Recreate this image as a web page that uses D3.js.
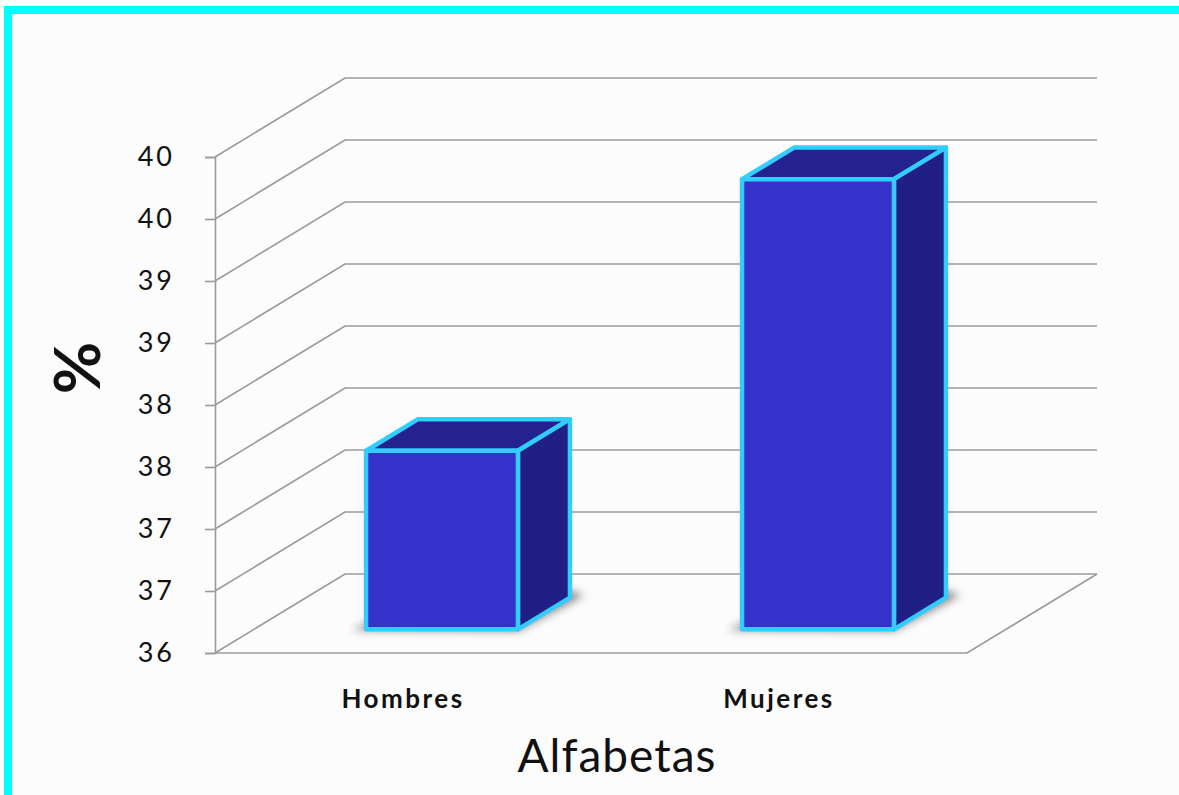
<!DOCTYPE html>
<html>
<head>
<meta charset="utf-8">
<script src="https://cdn.jsdelivr.net/npm/d3@7/dist/d3.min.js"></script>
<style>
  html, body { margin: 0; padding: 0; background: #ffffff; }
  svg { display: block; }
  text { font-family: "Lato", "Open Sans", sans-serif; fill: #111; }
</style>
</head>
<body>
<svg id="chart" width="1179" height="795"></svg>
<script>
// Literacy (%) by sex
const categories = ["Hombres", "Mujeres"];
const values = [37.44, 39.63];
const tickValues = [36, 36.5, 37, 37.5, 38, 38.5, 39, 39.5, 40];
const yTitle = "%";
const xTitle = "Alfabetas";

const svg = d3.select("#chart");
const W = 1179, H = 795;

// frame
svg.append("rect").attr("x", 0).attr("y", 0).attr("width", W).attr("height", H).attr("fill", "#ffffff");
svg.append("rect").attr("x", 12).attr("y", 14).attr("width", W - 12).attr("height", H - 14).attr("fill", "#fcfcfc");
svg.append("rect").attr("x", 4).attr("y", 6).attr("width", W - 4).attr("height", 8).attr("fill", "#00ffff");
svg.append("rect").attr("x", 4).attr("y", 6).attr("width", 8).attr("height", H - 6).attr("fill", "#00ffff");

// plot geometry: front plane and depth offset of the 3D box
const x0 = 215, x1 = 967;
const depthX = 130, depthY = -79;

const x = d3.scaleBand().domain(categories).range([x0, x1]).padding(0);
const y = d3.scaleLinear().domain([36, 40]).range([653, 157]);

// project a point (front-plane x, value, depth fraction)
const P = (px, v, f) => [px + f * depthX, y(v) + f * depthY];

const grid = svg.append("g").attr("fill", "none").attr("stroke", "#9a9a9a").attr("stroke-width", 1.6);

// side wall diagonals + back wall horizontals
tickValues.forEach(t => {
  const a = P(x0, t, 0), b = P(x0, t, 1), c = P(x1, t, 1);
  grid.append("path").attr("d", d3.line()([a, b, c]));
});

// floor
const fl = [P(x0, 36, 0), P(x1, 36, 0), P(x1, 36, 1)];
grid.append("path").attr("d", d3.line()(fl));

// front vertical axis with ticks
const axis = d3.axisLeft(y).tickValues(tickValues).tickFormat(d3.format(".0f")).tickSize(10).tickPadding(30);
const gAxis = svg.append("g").attr("transform", `translate(${x0},0)`).call(axis);
gAxis.select(".domain").attr("stroke", "#9a9a9a").attr("stroke-width", 1.6);
gAxis.selectAll(".tick line").attr("stroke", "#9a9a9a").attr("stroke-width", 1.6);
gAxis.selectAll(".tick text")
  .style("font-family", "Lato, 'Open Sans', sans-serif")
  .style("font-size", "27px").style("letter-spacing", "3px")
  .attr("fill", "#1a1a1a");

// bars
const defs = svg.append("defs");
defs.append("filter").attr("id", "shadow").attr("x", "-30%").attr("y", "-30%").attr("width", "160%").attr("height", "160%")
  .append("feGaussianBlur").attr("stdDeviation", 4);

const fFront = 0.3, fBack = 0.7;
const barFrac = 0.404;
const bars = svg.append("g");

categories.forEach((c, i) => {
  const v = values[i];
  const cx = x(c) + x.bandwidth() / 2;
  const bw = x.bandwidth() * barFrac;
  const l = cx - bw / 2, r = cx + bw / 2;

  const fbl = P(l, 36, fFront), fbr = P(r, 36, fFront);
  const ftl = P(l, v, fFront), ftr = P(r, v, fFront);
  const bbr = P(r, 36, fBack);
  const btl = P(l, v, fBack), btr = P(r, v, fBack);

  // soft contact shadow
  bars.append("path")
    .attr("d", d3.line()([[fbl[0] - 14, fbl[1] + 1], [fbr[0], fbr[1] + 2], [bbr[0] + 14, bbr[1] - 2], [bbr[0], bbr[1] - 8], [fbl[0], fbl[1] - 6]]) + "Z")
    .attr("fill", "#3a3030").attr("opacity", 0.55).attr("filter", "url(#shadow)");

  const g = bars.append("g").attr("stroke", "#33ccff").attr("stroke-width", 4.5).attr("stroke-linejoin", "round");
  g.append("path").attr("d", d3.line()([ftl, ftr, btr, btl]) + "Z").attr("fill", "#232290");
  g.append("path").attr("d", d3.line()([fbr, bbr, btr, ftr]) + "Z").attr("fill", "#211f85");
  g.append("path").attr("d", d3.line()([fbl, fbr, ftr, ftl]) + "Z").attr("fill", "#3333cc");
});

// category labels
svg.append("g").selectAll("text").data(categories).join("text")
  .attr("x", d => x(d) + x.bandwidth() / 2)
  .attr("y", 708)
  .attr("text-anchor", "middle")
  .style("font-size", "26px").style("font-weight", "bold").style("letter-spacing", "2.5px")
  .text(d => d);

// axis titles
svg.append("text")
  .attr("x", 617).attr("y", 772)
  .attr("text-anchor", "middle")
  .style("font-size", "46px").style("letter-spacing", "1px")
  .text(xTitle);

svg.append("text")
  .attr("transform", "translate(100,368) rotate(-90)")
  .attr("text-anchor", "middle")
  .style("font-size", "64px").style("font-weight", "bold")
  .text(yTitle);
</script>
</body>
</html>
